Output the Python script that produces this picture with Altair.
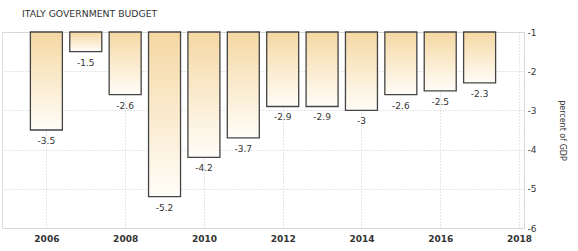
import altair as alt
import pandas as pd

years = [2006, 2007, 2008, 2009, 2010, 2011, 2012, 2013, 2014, 2015, 2016, 2017]
values = [-3.5, -1.5, -2.6, -5.2, -4.2, -3.7, -2.9, -2.9, -3.0, -2.6, -2.5, -2.3]
labels = ["-3.5", "-1.5", "-2.6", "-5.2", "-4.2", "-3.7", "-2.9", "-2.9", "-3", "-2.6", "-2.5", "-2.3"]
x_ticks = [2006, 2008, 2010, 2012, 2014, 2016, 2018]
y_ticks = [-1, -2, -3, -4, -5, -6]

df = pd.DataFrame({"year": years, "value": values, "label": labels, "base": [-1] * len(years)})

FONT = "DejaVu Sans"

x_scale = alt.Scale(domain=[2005, 2018], nice=False, zero=False)
y_scale = alt.Scale(domain=[-6, -1], nice=False, zero=False)

x_axis = alt.Axis(
    values=x_ticks, format="d", title=None, orient="bottom",
    grid=True, gridColor="#cccccc", gridDash=[1, 2], gridWidth=1,
    domain=False, ticks=False, labelPadding=6, labelOverlap=False,
    labelFont=FONT, labelFontSize=9, labelColor="#333333", labelFontWeight="bold",
)
y_axis = alt.Axis(
    values=y_ticks, orient="right", title="percent of GDP",
    titleAngle=90, titleFont=FONT, titleFontSize=8, titleFontWeight="normal",
    titleColor="#333333", titlePadding=22,
    grid=True, gridColor="#cccccc", gridDash=[1, 2], gridWidth=1,
    domain=True, domainColor="#cccccc", domainDash=[1, 2],
    ticks=False, labelPadding=3, labelOverlap=False,
    labelExpr="'' + datum.value",
    labelFont=FONT, labelFontSize=9, labelColor="#333333",
)

bars = alt.Chart(df).mark_bar(
    size=32,
    stroke="#444444",
    strokeWidth=1.3,
    color=alt.Gradient(
        gradient="linear",
        stops=[alt.GradientStop(color="#f5d8a3", offset=0),
               alt.GradientStop(color="#fffdf8", offset=1)],
        x1=0, x2=0, y1=0, y2=1,
    ),
).encode(
    x=alt.X("year:Q", scale=x_scale, axis=x_axis),
    y=alt.Y("base:Q", scale=y_scale, axis=y_axis),
    y2="value:Q",
)

text = alt.Chart(df).mark_text(
    baseline="top", dy=7, font=FONT, fontSize=9, color="#333333", align="center"
).encode(
    x=alt.X("year:Q", scale=x_scale, axis=x_axis),
    y=alt.Y("value:Q", scale=y_scale, axis=y_axis),
    text="label:N",
)

chart = alt.layer(bars, text).properties(
    width=522,
    height=196,
    autosize=alt.AutoSizeParams(type="none"),
    padding={"left": 2, "top": 32, "right": 54, "bottom": 23},
    title=alt.TitleParams(
        "ITALY GOVERNMENT BUDGET", anchor="start", dx=20, offset=9,
        font=FONT, fontSize=9.3, fontWeight="normal", color="#333333",
    ),
).configure_view(stroke=None).configure(background="white")

chart.save("out.html", embed_options={"renderer": "svg", "actions": False})
